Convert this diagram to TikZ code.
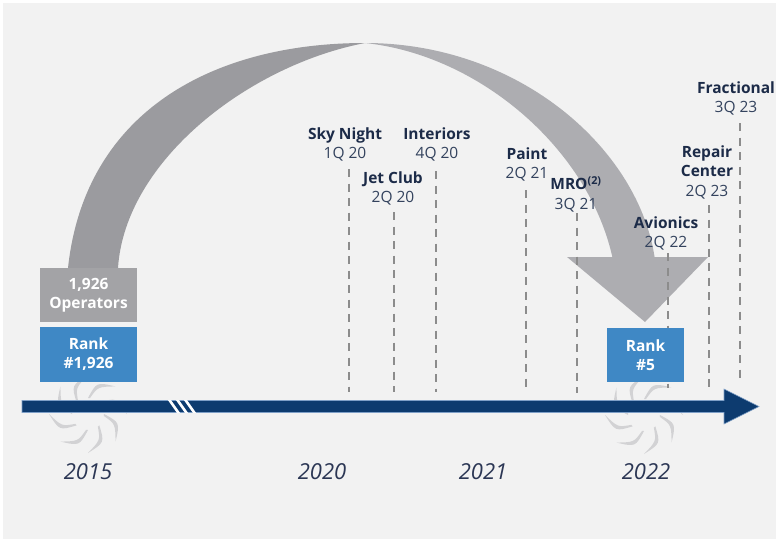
\documentclass[tikz,border=0pt]{standalone}
\usepackage{fontspec}
\setmainfont{Open Sans}
\definecolor{bgc}{HTML}{F2F2F2}
\definecolor{arcL}{HTML}{9B9B9F}
\definecolor{arcR}{HTML}{ADADB1}
\definecolor{boxgray}{HTML}{A3A3A6}
\definecolor{boxblue}{HTML}{3F88C5}
\definecolor{navy}{HTML}{0D3B6F}
\definecolor{navyedge}{HTML}{7E9FC7}
\definecolor{lblc}{HTML}{1C2B48}
\definecolor{datec}{HTML}{34435E}
\definecolor{yrc}{HTML}{2B3654}
\definecolor{dashc}{HTML}{8C8C8C}
\definecolor{swirlc}{HTML}{D2D2D4}
\newcommand\datetxt[1]{{\color{datec}\mdseries #1}}
\begin{document}
\begin{tikzpicture}[x=1pt,y=-1pt,
  lbl/.style={align=center, inner sep=0pt, anchor=north, text=lblc, font=\fontsize{15.5}{19.5}\selectfont},
  yr/.style={anchor=base, inner sep=0pt, text=yrc, font=\fontsize{22}{26}\selectfont\itshape},
  infobox/.style={inner sep=0pt, text=white, align=center, font=\bfseries\fontsize{15.5}{19}\selectfont},
  drop/.style={draw=dashc, line width=2.2pt, dash pattern=on 8pt off 6.5pt},
  blade/.style={fill=swirlc}]
\useasboundingbox (0,0) rectangle (776,541);
\fill[white] (0,0) rectangle (776,541);
\fill[bgc] (3,3) rectangle (776,539);

% swirls
\foreach \cx/\cy in {88/414,644/415}{
  \begin{scope}[shift={(\cx,\cy)}]
    \foreach \a in {0,45,...,315}{
      \fill[blade] (\a:16) .. controls (\a+15:33) .. (\a+45:39) .. controls (\a+20:29) .. (\a+7:16) -- cycle;
    }
  \end{scope}
}

% big arc arrow
\fill[arcL] (68,268) .. controls (85,110) and (215,43) .. (365,43)
  .. controls (250,65) and (125,160) .. (118,268) -- cycle;
\fill[arcR] (365,43) .. controls (520,43) and (640,150) .. (655,260)
  -- (613,260) .. controls (590,150) and (480,55) .. (365,43) -- cycle;
\fill[arcR] (567,257) -- (708,257) -- (645,322) -- cycle;

% drop lines
\coordinate (skyT) at (349,169);   \coordinate (skyB) at (349,392);
\coordinate (jetT) at (394,212);   \coordinate (jetB) at (394,392);
\coordinate (intT) at (436,171);   \coordinate (intB) at (436,392);
\coordinate (paiT) at (526,190);   \coordinate (paiB) at (526,392);
\coordinate (mroT) at (577,213);   \coordinate (mroB) at (577,393);
\coordinate (aviT) at (668,253);   \coordinate (aviB) at (668,388);
\coordinate (repT) at (709,205);   \coordinate (repB) at (709,387);
\coordinate (fraT) at (740,123);   \coordinate (fraB) at (740,382);
\foreach \n in {sky,jet,int,pai,mro,avi,rep,fra}{
  \draw[drop] (\n T) -- (\n B);
}

% boxes
\node[infobox, fill=boxgray, minimum width=97pt, minimum height=54pt] (ops) at (88.5,295) {1,926\\Operators};
\node[infobox, fill=boxblue, minimum width=97pt, minimum height=55pt] (rankA) at (88.5,354.5) {Rank\\\#1,926};
\node[infobox, fill=boxblue, minimum width=77pt, minimum height=54pt] (rankB) at (645.5,355) {Rank\\\#5};

% timeline bar
\fill[navy, draw=navyedge, line width=0.6pt] (22,400.5) -- (724,400.5) -- (724,389) -- (759,406.5)
  -- (724,424) -- (724,412.5) -- (22,412.5) -- cycle;
\begin{scope}
  \clip (150,400.2) rectangle (220,412.8);
  \foreach \k in {0,1,2}{
    \draw[white, line width=2.6pt] (168+8*\k,398) -- (180+8*\k,415);
  }
\end{scope}

% labels
\node[lbl] (lSky) at (345,127.2) {\textbf{Sky Night}\\\datetxt{1Q 20}};
\node[lbl] (lInt) at (437,127.2) {\textbf{Interiors}\\\datetxt{4Q 20}};
\node[lbl] (lJet) at (393,171.2) {\textbf{Jet Club}\\\datetxt{2Q 20}};
\node[lbl] (lPai) at (527,147.2) {\textbf{Paint}\\\datetxt{2Q 21}};
\node[lbl] (lMro) at (576,176.5) {\textbf{MRO\textsuperscript{(2)}}\\\datetxt{3Q 21}};
\node[lbl] (lAvi) at (666,216.2) {\textbf{Avionics}\\\datetxt{2Q 22}};
\node[lbl] (lRep) at (707,145.2) {\textbf{Repair}\\\textbf{Center}\\\datetxt{2Q 23}};
\node[lbl] (lFra) at (736,81.2) {\textbf{Fractional}\\\datetxt{3Q 23}};

% years
\node[yr] (y2015) at (88,479) {2015};
\node[yr] (y2020) at (322,479) {2020};
\node[yr] (y2021) at (483,479) {2021};
\node[yr] (y2022) at (646,479) {2022};
\end{tikzpicture}
\end{document}
